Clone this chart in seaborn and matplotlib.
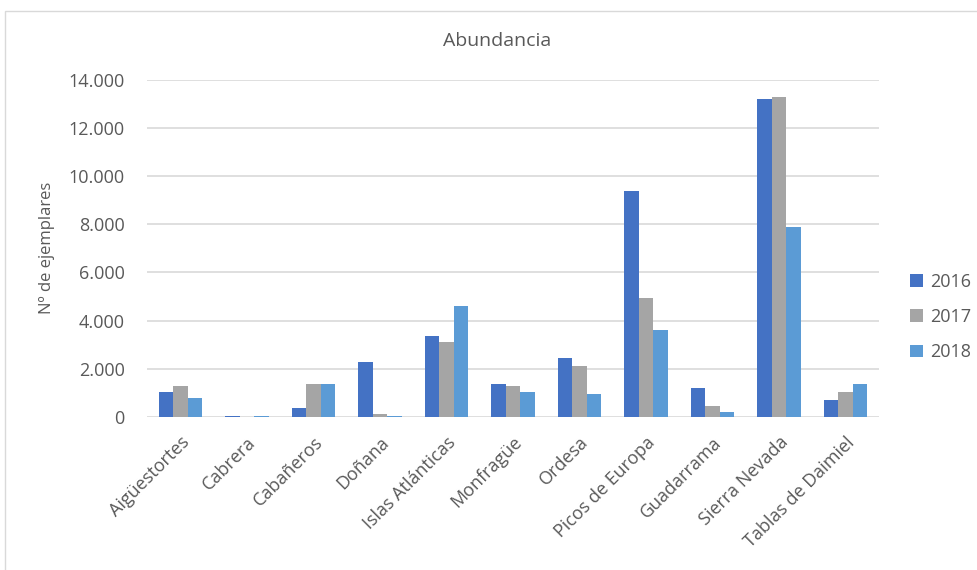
import matplotlib
matplotlib.use("Agg")
import matplotlib.pyplot as plt
from matplotlib.patches import Rectangle
from matplotlib.ticker import FuncFormatter
import seaborn as sns
import pandas as pd

parques = ["Aigüestortes", "Cabrera", "Cabañeros", "Doñana", "Islas Atlánticas",
           "Monfragüe", "Ordesa", "Picos de Europa", "Guadarrama", "Sierra Nevada",
           "Tablas de Daimiel"]
anios = ["2016", "2017", "2018"]
ej_2016 = [1010, 30, 350, 2260, 3340, 1350, 2430, 9380, 1180, 13200, 690]
ej_2017 = [1260, 0, 1350, 110, 3090, 1260, 2100, 4920, 430, 13290, 1010]
ej_2018 = [770, 25, 1350, 20, 4590, 1010, 930, 3590, 180, 7890, 1350]
colores = ["#4472C4", "#A5A5A5", "#5B9BD5"]

df = pd.DataFrame({
    "Parque": parques * 3,
    "Año": [a for a in anios for _ in parques],
    "Ejemplares": ej_2016 + ej_2017 + ej_2018,
})

sns.set_theme(style="white")
plt.rcParams["font.family"] = ["Open Sans", "DejaVu Sans"]
gris = "#595959"

W, H = 978, 570
x0, x1, y_top, y_cero = 147, 879, 80, 416.7
fig = plt.figure(figsize=(W / 100, H / 100), dpi=100)
ax = fig.add_axes([x0 / W, 1 - y_cero / H, (x1 - x0) / W, (y_cero - y_top) / H])

# chart frame
fig.patches.append(Rectangle((4.5 / W, -0.05), 1.2, 1 - 11 / H + 0.05,
                             transform=fig.transFigure, fill=False,
                             edgecolor="#D9D9D9", linewidth=1))

sns.barplot(data=df, x="Parque", y="Ejemplares", hue="Año", hue_order=anios,
            palette=colores, width=0.654, ax=ax, saturation=1, edgecolor="none")

ax.set_ylim(0, 14000)
ax.set_xlim(-0.5, len(parques) - 0.5)
ax.set_yticks(range(0, 14001, 2000))
ax.yaxis.set_major_formatter(FuncFormatter(lambda v, p: f"{int(v):,}".replace(",", ".")))
ax.grid(axis="y", color="#D9D9D9", linewidth=1.2)
ax.set_axisbelow(True)
for s in ax.spines.values():
    s.set_visible(False)
ax.tick_params(axis="both", length=0, colors=gris, labelsize=13)
ax.tick_params(axis="y", pad=16)
ax.set_xticks(range(len(parques)))
ax.set_xticklabels(parques, rotation=45, ha="right", rotation_mode="anchor")
ax.tick_params(axis="x", pad=12)
ax.set_xlabel("")
ax.set_ylabel("Nº de ejemplares", color=gris, fontsize=12)
ax.yaxis.label.set_verticalalignment("center")
ax.yaxis.set_label_coords((47 - x0) / (x1 - x0), (y_cero - 248) / (y_cero - y_top))

fig.text(497 / W, 1 - 41 / H, "Abundancia", ha="center", va="center",
         fontsize=14, color=gris)

handles, labels = ax.get_legend_handles_labels()
ax.legend(handles, labels, loc="center left", bbox_to_anchor=(910 / W, 1 - 317 / H),
          bbox_transform=fig.transFigure, frameon=False, fontsize=13,
          handlelength=0.7, handleheight=0.7, handletextpad=0.4,
          labelspacing=0.95, labelcolor=gris, borderpad=0, borderaxespad=0)

fig.savefig("out.png", dpi=100)
